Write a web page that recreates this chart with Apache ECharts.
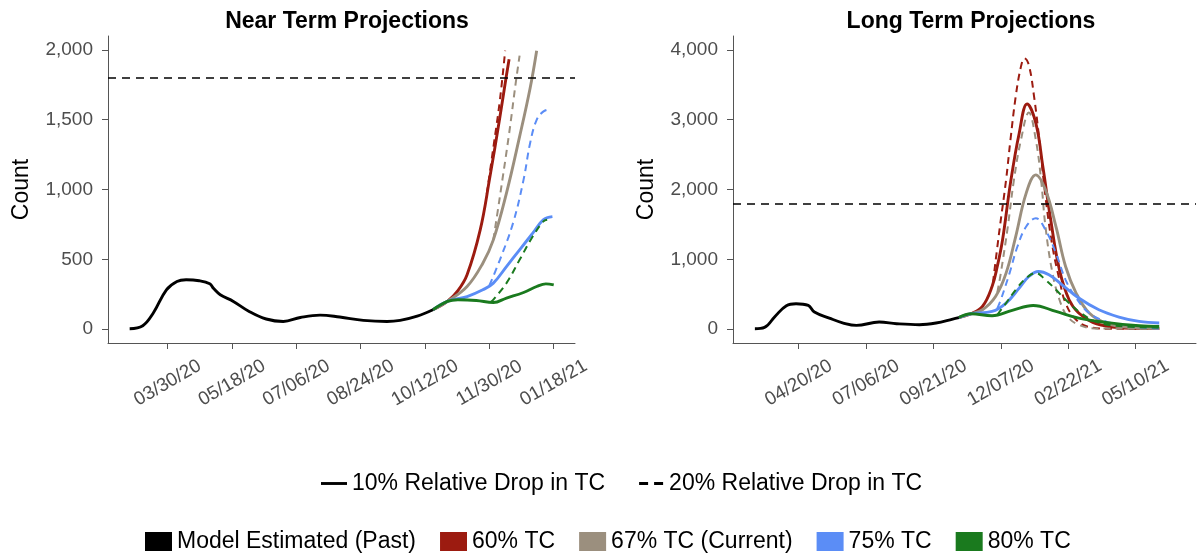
<!DOCTYPE html>
<html>
<head>
<meta charset="utf-8">
<script src="https://cdn.jsdelivr.net/npm/echarts@6/dist/echarts.min.js"></script>
<style>html,body{margin:0;padding:0;background:#fff}#c{width:1199px;height:558px}</style>
</head>
<body>
<div id="c"></div>
<script>
// ---------------- DATA ----------------
const nearTicks = ['2020-03-30','2020-05-18','2020-07-06','2020-08-24','2020-10-12','2020-11-30','2021-01-18'];
const longTicks = ['2020-04-20','2020-07-06','2020-09-21','2020-12-07','2021-02-22','2021-05-10'];
const nearYTicks = [0, 500, 1000, 1500, 2000];
const longYTicks = [0, 1000, 2000, 3000, 4000];
const capacity = 1800;

// Near term panel
const nearPastDates = ['2020-03-01','2020-03-11','2020-03-19','2020-03-29','2020-04-06','2020-04-13','2020-04-23','2020-05-01','2020-05-04','2020-05-09','2020-05-19','2020-05-31','2020-06-13','2020-06-26','2020-07-09','2020-07-24','2020-08-08','2020-08-26','2020-09-13','2020-09-23','2020-10-06','2020-10-18'];
const nearPast = [2,24,115,281,341,353,346,324,290,246,198,126,72,54,83,100,86,62,54,62,92,138];

const nearRed10Dates = ['2020-10-18','2020-10-29','2020-11-06','2020-11-13','2020-11-23','2020-11-30','2020-12-08','2020-12-12','2020-12-15'];
const nearRed10 = [138,198,275,389,711,1069,1520,1760,1933];
const nearRed20Dates = ['2020-11-28','2020-12-03','2020-12-08','2020-12-12'];
const nearRed20 = [966,1300,1640,1995];

const nearGray10Dates = ['2020-10-18','2020-10-29','2020-11-13','2020-11-25','2020-12-03','2020-12-13','2020-12-23','2020-12-31','2021-01-05'];
const nearGray10 = [138,198,305,472,639,974,1379,1726,1995];
const nearGray20Dates = ['2020-12-03','2020-12-08','2020-12-15','2020-12-20','2020-12-23'];
const nearGray20 = [639,950,1400,1760,1960];

const nearBlue10Dates = ['2020-10-18','2020-10-29','2020-11-13','2020-11-25','2020-12-03','2020-12-13','2020-12-23','2021-01-02','2021-01-10','2021-01-17'];
const nearBlue10 = [138,198,233,281,329,448,568,687,783,806];
const nearBlue20Dates = ['2020-11-30','2020-12-08','2020-12-18','2020-12-26','2020-12-31','2021-01-05','2021-01-10','2021-01-15'];
const nearBlue20 = [312,496,759,1069,1332,1499,1558,1575];

const nearGreen10Dates = ['2020-10-18','2020-10-29','2020-11-06','2020-11-20','2020-12-03','2020-12-13','2020-12-26','2021-01-05','2021-01-12','2021-01-18'];
const nearGreen10 = [138,198,210,205,190,222,262,305,324,317];
const nearGreen20Dates = ['2020-12-01','2020-12-04','2020-12-13','2020-12-23','2021-01-02','2021-01-10','2021-01-13'];
const nearGreen20 = [192,222,329,496,663,770,783];

// Long term panel
const longPastDates = ['2020-03-01','2020-03-12','2020-03-24','2020-04-06','2020-04-17','2020-05-01','2020-05-08','2020-05-25','2020-06-10','2020-06-25','2020-07-21','2020-08-10','2020-09-05','2020-09-24','2020-10-13','2020-10-20'];
const longPast = [4,23,181,334,362,338,243,157,86,52,100,76,62,86,143,165];

const longRed10Dates = ['2020-10-20','2020-11-03','2020-11-16','2020-11-27','2020-12-03','2020-12-09','2020-12-18','2020-12-28','2021-01-06','2021-01-16','2021-01-24','2021-02-02','2021-02-12','2021-02-23','2021-03-06','2021-03-22','2021-04-13','2021-05-14','2021-06-06'];
const longRed10 = [165,219,324,610,900,1279,2091,2807,3226,2950,2329,1565,849,420,229,95,29,9,9];
const longRed20Dates = ['2020-11-28','2020-12-05','2020-12-13','2020-12-18','2020-12-24','2020-12-30','2021-01-03','2021-01-08','2021-01-14','2021-01-20','2021-01-27','2021-02-04','2021-02-12','2021-02-19','2021-03-03','2021-03-18','2021-04-13','2021-06-06'];
const longRed20 = [660,1375,2138,2711,3331,3761,3881,3785,3331,2711,1899,1183,706,372,133,29,3,2];

const longGray10Dates = ['2020-10-20','2020-11-03','2020-11-16','2020-12-01','2020-12-13','2020-12-24','2021-01-05','2021-01-16','2021-01-27','2021-02-08','2021-02-19','2021-03-03','2021-03-18','2021-04-06','2021-04-29','2021-06-06'];
const longGray10 = [165,219,276,467,802,1326,1948,2210,1995,1469,896,516,229,86,29,9];
const longGray20Dates = ['2020-12-03','2020-12-07','2020-12-15','2020-12-22','2020-12-30','2021-01-08','2021-01-16','2021-01-22','2021-01-27','2021-02-04','2021-02-12','2021-02-21','2021-03-06','2021-03-25','2021-06-06'];
const longGray20 = [523,802,1469,2138,2711,3102,2711,2138,1469,802,420,181,62,9,5];

const longBlue10Dates = ['2020-10-20','2020-11-03','2020-11-27','2020-12-13','2020-12-28','2021-01-08','2021-01-19','2021-01-31','2021-02-15','2021-03-06','2021-03-29','2021-04-21','2021-05-14','2021-06-06'];
const longBlue10 = [165,219,252,372,587,753,825,778,634,444,276,172,109,86];
const longBlue20Dates = ['2020-12-03','2020-12-07','2020-12-17','2020-12-26','2021-01-05','2021-01-16','2021-01-27','2021-02-08','2021-02-19','2021-03-03','2021-03-18','2021-04-06','2021-04-29','2021-06-06'];
const longBlue20 = [297,420,802,1183,1469,1589,1422,1088,706,444,229,109,47,9];

const longGreen10Dates = ['2020-10-20','2020-11-03','2020-11-27','2020-12-20','2021-01-13','2021-02-08','2021-03-06','2021-04-06','2021-05-14','2021-06-06'];
const longGreen10 = [165,219,190,267,338,252,157,95,47,38];
const longGreen20Dates = ['2020-12-03','2020-12-13','2020-12-24','2021-01-05','2021-01-16','2021-01-27','2021-02-08','2021-02-19','2021-03-06','2021-03-25','2021-04-17','2021-06-06'];
const longGreen20 = [205,372,563,730,802,706,563,420,252,109,47,19];

// ---------------- CHART ----------------
const DAY0 = Date.UTC(2020, 2, 30);
function dayOf(s) { const p = s.split('-').map(Number); return (Date.UTC(p[0], p[1]-1, p[2]) - DAY0) / 86400000; }
function fmtDay(v) {
  const d = new Date(DAY0 + Math.round(v) * 86400000);
  const mm = String(d.getUTCMonth()+1).padStart(2,'0');
  const dd = String(d.getUTCDate()).padStart(2,'0');
  const yy = String(d.getUTCFullYear()).slice(2);
  return mm + '/' + dd + '/' + yy;
}
const FONT = '"Liberation Sans", Arial, Helvetica, sans-serif';
const C = { past:'#000000', red:'#9C1B10', gray:'#9B8F7E', blue:'#5B8DF6', green:'#1A7A1E' };

function line(name, dates, vals, color, dashed, gi) {
  return {
    type:'line', name, xAxisIndex:gi, yAxisIndex:gi,
    data: dates.map((d,i) => [dayOf(d), vals[i]]),
    symbol:'none', showSymbol:false, smooth:0.4, silent:true,
    lineStyle:{ color, width: dashed ? 2 : 2.9, type: dashed ? [7,5] : 'solid' },
    itemStyle:{ color }
  };
}
function capLine() {
  return { silent:true, symbol:'none', label:{show:false},
    lineStyle:{ color:'#000', width:1.5, type:[8,6] },
    data:[{ yAxis: capacity }] };
}
function xAx(gi, min, max, ticks) {
  const vals = ticks.map(dayOf);
  return { type:'value', gridIndex:gi, min, max,
    axisLine:{ show:true, onZero:false, lineStyle:{ color:'#555', width:1 } },
    axisTick:{ show:true, length:6, customValues: vals, lineStyle:{ color:'#555' } },
    axisLabel:{ customValues: vals, rotate:30, align:'center', verticalAlign:'middle',
      formatter: fmtDay, fontSize:19, color:'#4d4d4d', margin:40, fontFamily:FONT },
    splitLine:{ show:false } };
}
function yAx(gi, min, max, ticks) {
  return { type:'value', gridIndex:gi, min, max,
    name:'Count', nameLocation:'middle', nameGap:75, nameRotate:90,
    nameTextStyle:{ fontSize:23, color:'#000', fontFamily:FONT },
    axisLine:{ show:true, onZero:false, lineStyle:{ color:'#555', width:1 } },
    axisTick:{ show:true, length:6, customValues: ticks, lineStyle:{ color:'#555' } },
    axisLabel:{ customValues: ticks, formatter: v => echarts.format.addCommas(v), fontSize:19, color:'#4d4d4d', margin:15, fontFamily:FONT },
    splitLine:{ show:false } };
}

const series = [];
[['near',0],['long',1]].forEach(([p, gi]) => {
  const g = (n) => eval(p + n);
  series.push(line('60% TC', g('Red10Dates'), g('Red10'), C.red, false, gi));
  series.push(line('60% TC', g('Red20Dates'), g('Red20'), C.red, true, gi));
  series.push(line('67% TC (Current)', g('Gray10Dates'), g('Gray10'), C.gray, false, gi));
  series.push(line('67% TC (Current)', g('Gray20Dates'), g('Gray20'), C.gray, true, gi));
  series.push(line('75% TC', g('Blue10Dates'), g('Blue10'), C.blue, false, gi));
  series.push(line('75% TC', g('Blue20Dates'), g('Blue20'), C.blue, true, gi));
  series.push(line('80% TC', g('Green10Dates'), g('Green10'), C.green, false, gi));
  series.push(line('80% TC', g('Green20Dates'), g('Green20'), C.green, true, gi));
  const past = line('Model Estimated (Past)', g('PastDates'), g('Past'), C.past, false, gi);
  past.markLine = capLine();
  series.push(past);
});
// style-legend helpers (no data)
series.push({ type:'line', name:'10% Relative Drop in TC', xAxisIndex:0, yAxisIndex:0, data:[], symbol:'none',
  lineStyle:{ color:'#000', width:3 }, itemStyle:{ color:'#000' } });
series.push({ type:'line', name:'20% Relative Drop in TC', xAxisIndex:0, yAxisIndex:0, data:[], symbol:'none',
  lineStyle:{ color:'#000', width:3, type:[8,6] }, itemStyle:{ color:'#000' } });

const chart = echarts.init(document.getElementById('c'), null, { renderer:'canvas' });
chart.setOption({
  animation:false,
  textStyle:{ fontFamily:FONT },
  title:[
    { text:'Near Term Projections', left:342, top:5, textAlign:'center',
      textStyle:{ fontSize:23, fontWeight:'bold', color:'#000', fontFamily:FONT } },
    { text:'Long Term Projections', left:966, top:5, textAlign:'center',
      textStyle:{ fontSize:23, fontWeight:'bold', color:'#000', fontFamily:FONT } }
  ],
  grid:[
    { left:108, top:36, width:467, height:307 },
    { left:733, top:36, width:463, height:307 }
  ],
  xAxis:[ xAx(0, -45.5, 310.2, nearTicks), xAx(1, -54, 475, longTicks) ],
  yAxis:[ yAx(0, -100, 2100, nearYTicks), yAx(1, -200, 4200, longYTicks) ],
  legend:[
    { data:[
        { name:'10% Relative Drop in TC', icon:'path://M0,0H27V3H0Z' },
        { name:'20% Relative Drop in TC', icon:'path://M0,0H9V3H0Z M15,0H24V3H15Z' }
      ],
      left:316, top:467, itemWidth:26, itemHeight:3, itemGap:34, selectedMode:false,
      itemStyle:{ color:'#000' },
      textStyle:{ fontSize:23, color:'#000', fontFamily:FONT } },
    { data:['Model Estimated (Past)','60% TC','67% TC (Current)','75% TC','80% TC'], left:140, top:525,
      icon:'rect', itemWidth:27, itemHeight:19, itemGap:24, selectedMode:false,
      textStyle:{ fontSize:23, color:'#000', fontFamily:FONT } }
  ],
  series
});
</script>
</body>
</html>
